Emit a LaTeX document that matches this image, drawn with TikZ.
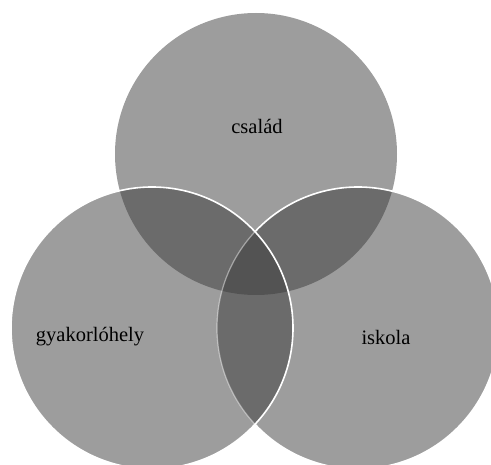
\documentclass[tikz,border=0pt]{standalone}
\usepackage{fontspec}
\setmainfont{Liberation Serif}
\begin{document}
\begin{tikzpicture}[x=1pt,y=1pt,
  setfill/.style={fill=black!77, fill opacity=0.5},
  rim/.style={draw=white, line width=1.6pt},
  lbl/.style={font=\fontsize{20.5}{24}\selectfont, text=black}]
  \useasboundingbox (0,0) rectangle (491,-465);
  \begin{scope}
    \clip (0,0) rectangle (491,-465);
    % sets
    \coordinate (ctop) at (256,-154);
    \coordinate (cleft) at (152,-328);
    \coordinate (cright) at (358,-328);
    \fill[setfill] (ctop) circle[radius=141];
    \fill[setfill] (cright) circle[radius=141];
    \fill[setfill] (cleft) circle[radius=141];
    % outlines: the right rim shows dimmed where the left set lies over it
    \begin{scope}
      \clip (cleft) circle[radius=141];
      \draw[draw=white, draw opacity=0.45, line width=1.2pt] (cright) circle[radius=141];
    \end{scope}
    \begin{scope}[even odd rule]
      \clip (cleft) circle[radius=141] (0,0) rectangle (491,-465);
      \draw[rim] (cright) circle[radius=141];
    \end{scope}
    \draw[rim] (cleft) circle[radius=141];
  \end{scope}
  \node[lbl] (family) at (257,-126) {család};
  \node[lbl] (practice) at (90,-337) {gyakorlóhely};
  \node[lbl] (school) at (386,-337) {iskola};
\end{tikzpicture}
\end{document}
